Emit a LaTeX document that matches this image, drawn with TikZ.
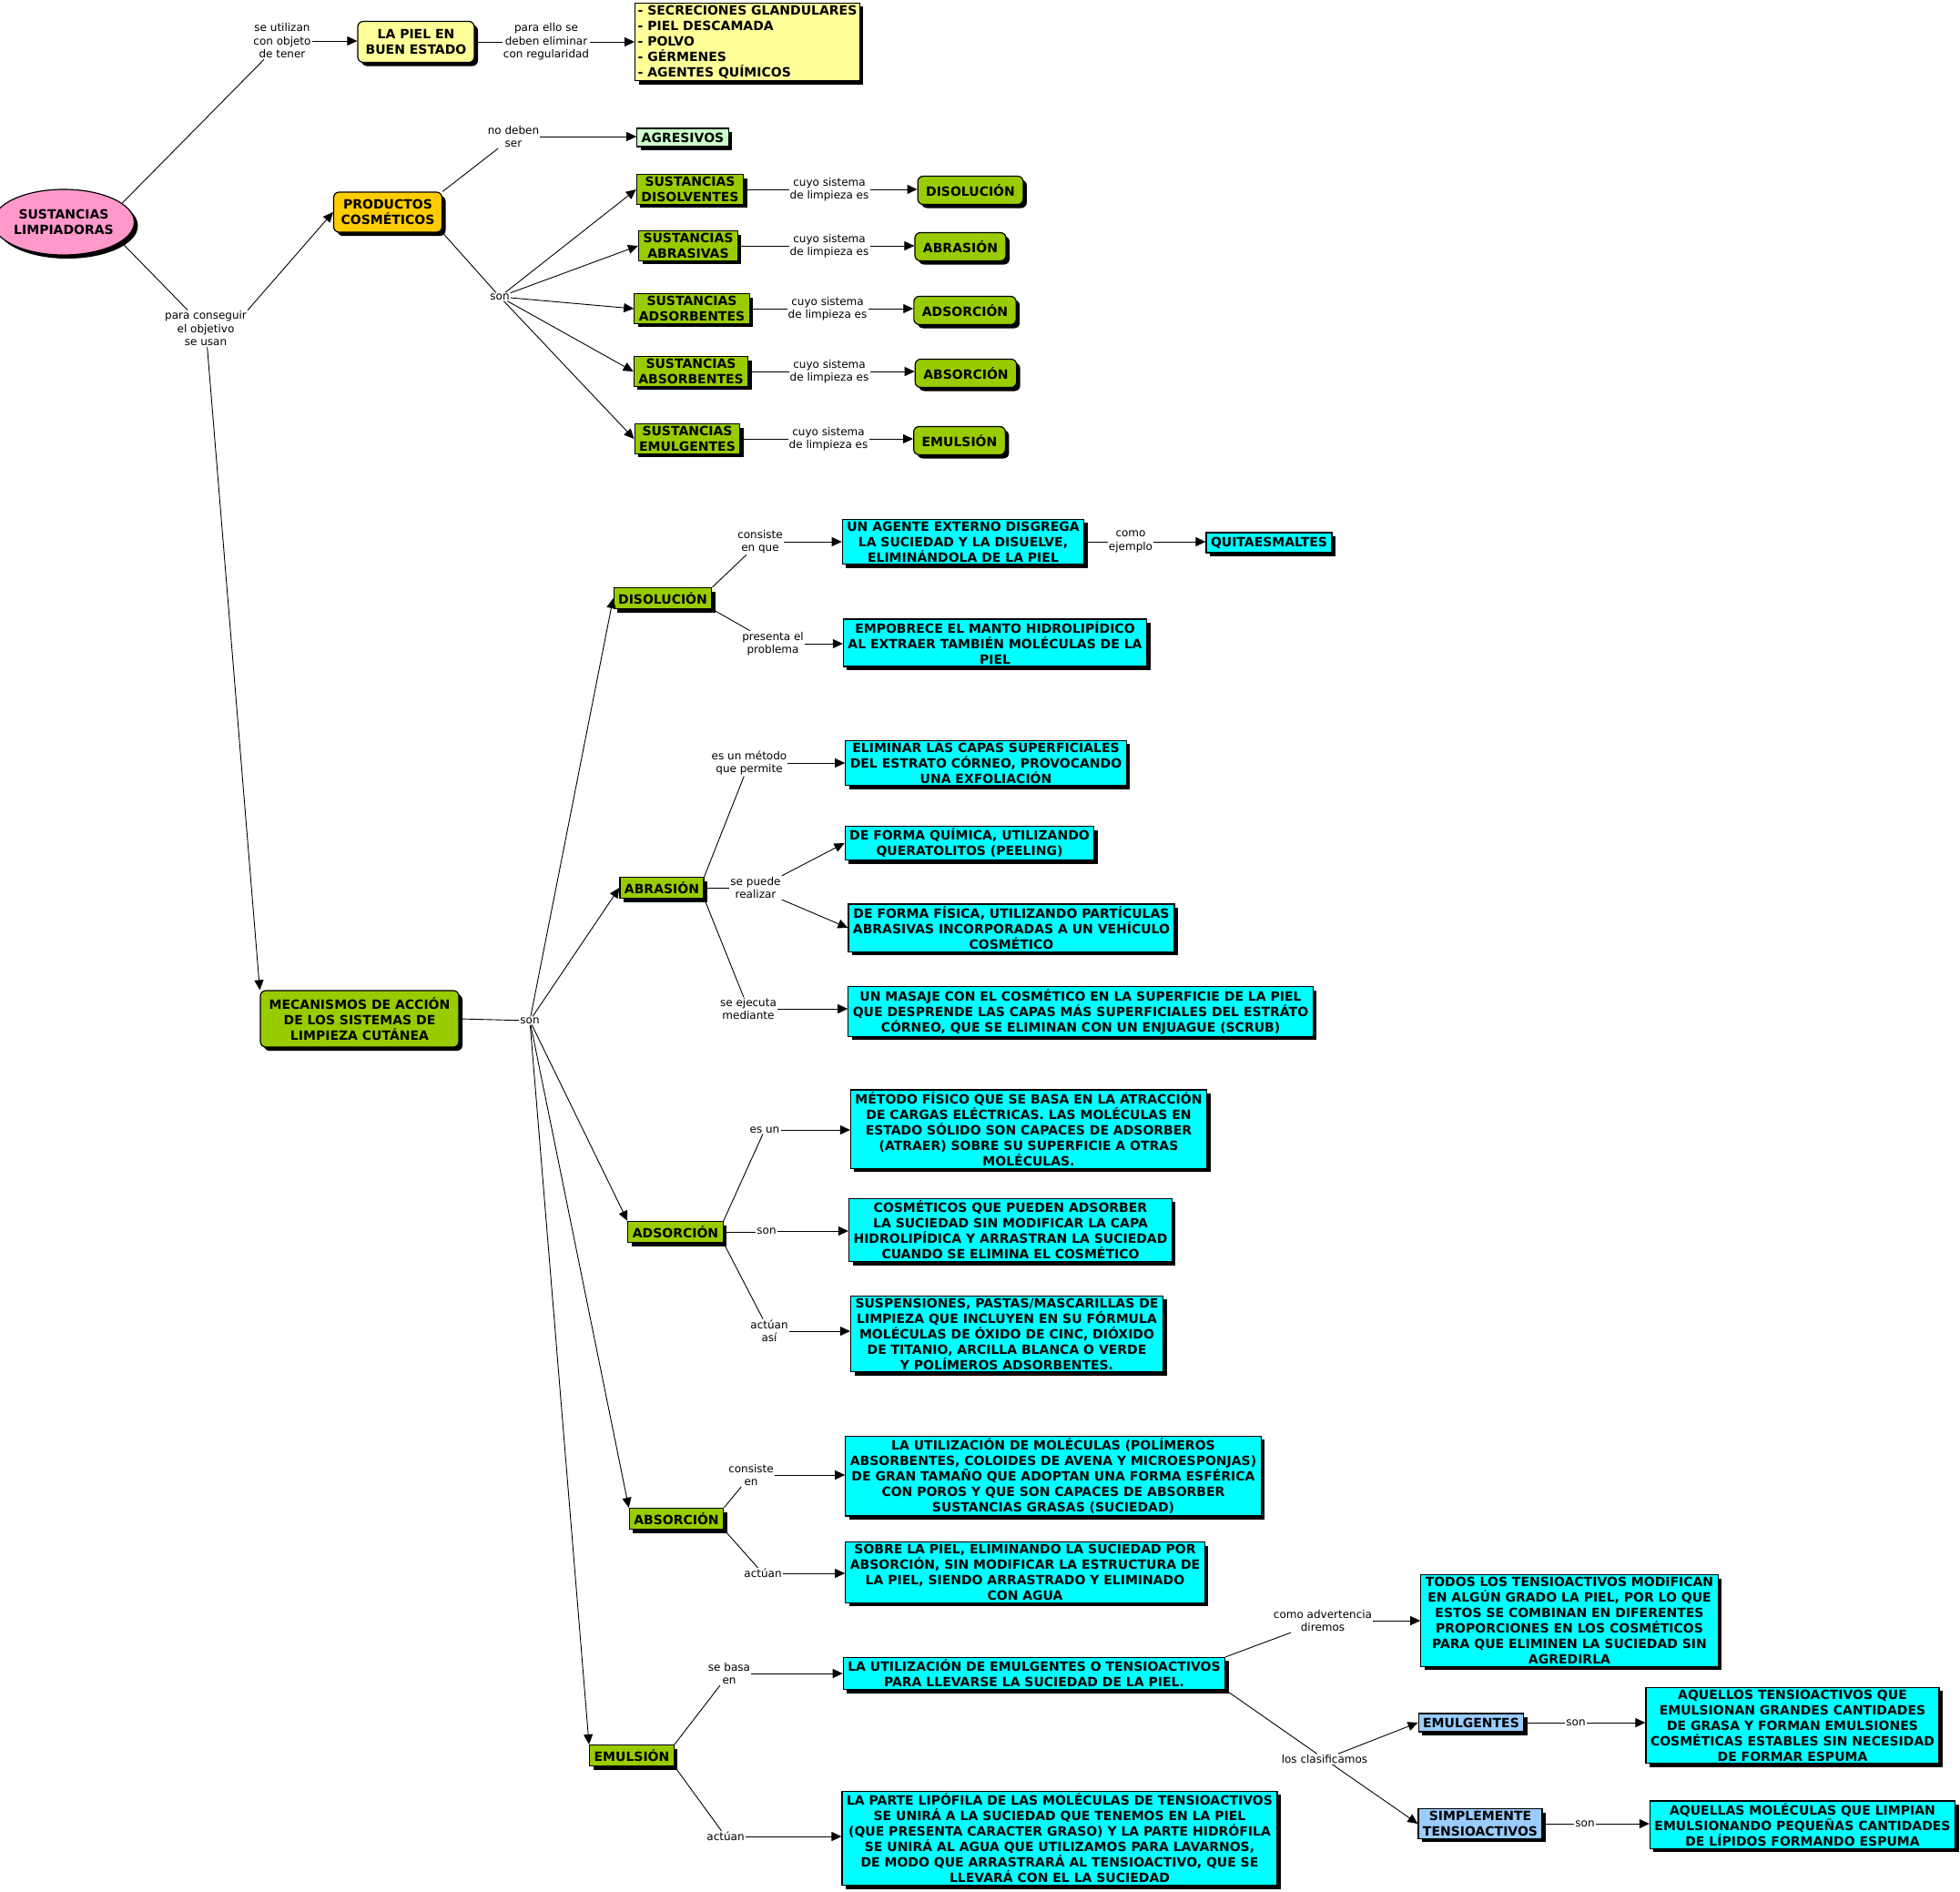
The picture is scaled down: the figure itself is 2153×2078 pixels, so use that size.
\documentclass[tikz,border=0pt]{standalone}
\usepackage{fontspec}
\setmainfont{DejaVu Sans}
\usetikzlibrary{shapes.geometric,shadows,arrows.meta}

\definecolor{rosa}{HTML}{FF99CC}
\definecolor{amarillo}{HTML}{FFFF99}
\definecolor{naranja}{HTML}{FFCC00}
\definecolor{verdeclaro}{HTML}{CCFFCC}
\definecolor{verde}{HTML}{99CC00}
\definecolor{celeste}{HTML}{00FFFF}
\definecolor{azul}{HTML}{99CCFF}

\tikzset{
  caja/.style={draw, line width=1.2pt, align=center, inner xsep=5pt, inner ysep=2.5pt,
    minimum height=20, font=\bfseries\fontsize{14}{17}\selectfont,
    drop shadow={shadow xshift=4pt, shadow yshift=-4pt, opacity=1, fill=black}},
  redondo/.style={caja, rounded corners=6pt},
  sistema/.style={redondo, fill=verde, inner xsep=9pt, minimum height=31},
  metodo/.style={caja, fill=verde, minimum height=23},
  enlace/.style={align=center, inner sep=1pt, font=\fontsize{12}{14.5}\selectfont},
  linea/.style={line width=0.9pt},
  flecha/.style={line width=0.9pt, ->}
}

\begin{document}
\begin{tikzpicture}[x=1pt, y=-1pt, >={Triangle[length=11pt,width=10pt]}]
\useasboundingbox (0,0) rectangle (2153,2078);

\node [caja, ellipse, fill=rosa, minimum width=140, minimum height=72, inner sep=0pt] (lim) at (70,244) {SUSTANCIAS\\LIMPIADORAS};
\node [enlace] (lutil) at (310,45) {se utilizan\\con objeto\\de tener};
\node [redondo, fill=amarillo, minimum width=128, minimum height=45] (piel) at (457,46) {LA PIEL EN\\BUEN ESTADO};
\node [enlace] (lpara) at (600,46) {para ello se\\deben eliminar\\con regularidad};
\node [caja, fill=amarillo, align=left, inner xsep=3pt] (elim) at (821,46) {- SECRECIONES GLANDULARES\\- PIEL DESCAMADA\\- POLVO\\- GÉRMENES\\- AGENTES QUÍMICOS};

\node [enlace] (lnoser) at (564,150) {no deben\\ser};
\node [caja, fill=verdeclaro] (agres) at (750,151) {AGRESIVOS};
\node [redondo, fill=naranja, minimum width=119, minimum height=44] (prod) at (426,233) {PRODUCTOS\\COSMÉTICOS};
\node [enlace] (lconseg) at (226,361) {para conseguir\\el objetivo\\se usan};
\node [enlace] (lson1) at (549,326) {son};

\node [caja, fill=verde] (disolv) at (758,208) {SUSTANCIAS\\DISOLVENTES};
\node [caja, fill=verde] (abras) at (756,270) {SUSTANCIAS\\ABRASIVAS};
\node [caja, fill=verde] (adsorb) at (760,339) {SUSTANCIAS\\ADSORBENTES};
\node [caja, fill=verde] (absorb) at (759,408) {SUSTANCIAS\\ABSORBENTES};
\node [caja, fill=verde] (emulg) at (755,482) {SUSTANCIAS\\EMULGENTES};

\node [enlace] (lcuyo1) at (911,208) {cuyo sistema\\de limpieza es};
\node [enlace] (lcuyo2) at (911,270) {cuyo sistema\\de limpieza es};
\node [enlace] (lcuyo3) at (909,339) {cuyo sistema\\de limpieza es};
\node [enlace] (lcuyo4) at (911,408) {cuyo sistema\\de limpieza es};
\node [enlace] (lcuyo5) at (910,482) {cuyo sistema\\de limpieza es};

\node [sistema] (sdisol) at (1066,209) {DISOLUCIÓN};
\node [sistema] (sabras) at (1055,271) {ABRASIÓN};
\node [sistema] (sadsor) at (1060,341) {ADSORCIÓN};
\node [sistema] (sabsor) at (1061,410) {ABSORCIÓN};
\node [sistema] (semul) at (1054,484) {EMULSIÓN};

\node [redondo, fill=verde, minimum width=218, minimum height=62] (mec) at (395,1119) {MECANISMOS DE ACCIÓN\\DE LOS SISTEMAS DE\\LIMPIEZA CUTÁNEA};
\node [enlace] (lson2) at (582,1121) {son};
\node [metodo] (mdisol) at (728,657) {DISOLUCIÓN};
\node [metodo] (mabras) at (727,975) {ABRASIÓN};
\node [metodo] (madsor) at (742,1353) {ADSORCIÓN};
\node [metodo] (mabsor) at (743,1668) {ABSORCIÓN};
\node [metodo] (memul) at (694,1928) {EMULSIÓN};

\node [enlace] (lconsq) at (835,595) {consiste\\en que};
\node [caja, fill=celeste] (agente) at (1058,595) {UN AGENTE EXTERNO DISGREGA\\LA SUCIEDAD Y LA DISUELVE,\\ELIMINÁNDOLA DE LA PIEL};
\node [enlace] (lcomo) at (1242,595) {como\\ejemplo};
\node [caja, fill=celeste, minimum height=22] (quita) at (1394,596) {QUITAESMALTES};
\node [enlace] (lprob) at (849,707) {presenta el\\problema};
\node [caja, fill=celeste] (empob) at (1093,706) {EMPOBRECE EL MANTO HIDROLIPÍDICO\\AL EXTRAER TAMBIÉN MOLÉCULAS DE LA\\PIEL};

\node [enlace] (lmetodo) at (823,838) {es un método\\que permite};
\node [caja, fill=celeste] (exfol) at (1083,838) {ELIMINAR LAS CAPAS SUPERFICIALES\\DEL ESTRATO CÓRNEO, PROVOCANDO\\UNA EXFOLIACIÓN};
\node [enlace] (lreal) at (830,975) {se puede\\realizar};
\node [caja, fill=celeste] (quim) at (1065,926) {DE FORMA QUÍMICA, UTILIZANDO\\QUERATOLITOS (PEELING)};
\node [caja, fill=celeste] (fisic) at (1111,1019) {DE FORMA FÍSICA, UTILIZANDO PARTÍCULAS\\ABRASIVAS INCORPORADAS A UN VEHÍCULO\\COSMÉTICO};
\node [enlace] (lejec) at (822,1108) {se ejecuta\\mediante};
\node [caja, fill=celeste] (masaje) at (1187,1111) {UN MASAJE CON EL COSMÉTICO EN LA SUPERFICIE DE LA PIEL\\QUE DESPRENDE LAS CAPAS MÁS SUPERFICIALES DEL ESTRÁTO\\CÓRNEO, QUE SE ELIMINAN CON UN ENJUAGUE (SCRUB)};

\node [enlace] (lesun) at (840,1241) {es un};
\node [caja, fill=celeste] (metodo) at (1130,1240) {MÉTODO FÍSICO QUE SE BASA EN LA ATRACCIÓN\\DE CARGAS ELÉCTRICAS. LAS MOLÉCULAS EN\\ESTADO SÓLIDO SON CAPACES DE ADSORBER\\(ATRAER) SOBRE SU SUPERFICIE A OTRAS\\MOLÉCULAS.};
\node [enlace] (lson3) at (842,1352) {son};
\node [caja, fill=celeste] (cosmet) at (1110,1351) {COSMÉTICOS QUE PUEDEN ADSORBER\\LA SUCIEDAD SIN MODIFICAR LA CAPA\\HIDROLIPÍDICA Y ARRASTRAN LA SUCIEDAD\\CUANDO SE ELIMINA EL COSMÉTICO};
\node [enlace] (lasi) at (845,1462) {actúan\\así};
\node [caja, fill=celeste] (susp) at (1106,1465) {SUSPENSIONES, PASTAS/MASCARILLAS DE\\LIMPIEZA QUE INCLUYEN EN SU FÓRMULA\\MOLÉCULAS DE ÓXIDO DE CINC, DIÓXIDO\\DE TITANIO, ARCILLA BLANCA O VERDE\\Y POLÍMEROS ADSORBENTES.};

\node [enlace] (lconsen) at (825,1620) {consiste\\en};
\node [caja, fill=celeste] (molec) at (1157,1621) {LA UTILIZACIÓN DE MOLÉCULAS (POLÍMEROS\\ABSORBENTES, COLOIDES DE AVENA Y MICROESPONJAS)\\DE GRAN TAMAÑO QUE ADOPTAN UNA FORMA ESFÉRICA\\CON POROS Y QUE SON CAPACES DE ABSORBER\\SUSTANCIAS GRASAS (SUCIEDAD)};
\node [enlace] (lact1) at (838,1728) {actúan};
\node [caja, fill=celeste] (sobre) at (1126,1727) {SOBRE LA PIEL, ELIMINANDO LA SUCIEDAD POR\\ABSORCIÓN, SIN MODIFICAR LA ESTRUCTURA DE\\LA PIEL, SIENDO ARRASTRADO Y ELIMINADO\\CON AGUA};

\node [enlace] (lbasa) at (801,1838) {se basa\\en};
\node [caja, fill=celeste] (utiliz) at (1136,1838) {LA UTILIZACIÓN DE EMULGENTES O TENSIOACTIVOS\\PARA LLEVARSE LA SUCIEDAD DE LA PIEL.};
\node [enlace] (lact2) at (797,2017) {actúan};
\node [caja, fill=celeste] (lipof) at (1164,2019) {LA PARTE LIPÓFILA DE LAS MOLÉCULAS DE TENSIOACTIVOS\\SE UNIRÁ A LA SUCIEDAD QUE TENEMOS EN LA PIEL\\(QUE PRESENTA CARACTER GRASO) Y LA PARTE HIDRÓFILA\\SE UNIRÁ AL AGUA QUE UTILIZAMOS PARA LAVARNOS,\\DE MODO QUE ARRASTRARÁ AL TENSIOACTIVO, QUE SE\\LLEVARÁ CON EL LA SUCIEDAD};
\node [enlace] (ladv) at (1453,1780) {como advertencia\\diremos};
\node [caja, fill=celeste] (todos) at (1724,1780) {TODOS LOS TENSIOACTIVOS MODIFICAN\\EN ALGÚN GRADO LA PIEL, POR LO QUE\\ESTOS SE COMBINAN EN DIFERENTES\\PROPORCIONES EN LOS COSMÉTICOS\\PARA QUE ELIMINEN LA SUCIEDAD SIN\\AGREDIRLA};
\node [enlace] (lclas) at (1455,1932) {los clasificamos};
\node [caja, fill=azul] (bemulg) at (1616,1892) {EMULGENTES};
\node [enlace] (lson4) at (1731,1892) {son};
\node [caja, fill=celeste] (aquellos) at (1969,1895) {AQUELLOS TENSIOACTIVOS QUE\\EMULSIONAN GRANDES CANTIDADES\\DE GRASA Y FORMAN EMULSIONES\\COSMÉTICAS ESTABLES SIN NECESIDAD\\DE FORMAR ESPUMA};
\node [caja, fill=azul] (bsimple) at (1626,2003) {SIMPLEMENTE\\TENSIOACTIVOS};
\node [enlace] (lson5) at (1741,2003) {son};
\node [caja, fill=celeste] (aquellas) at (1980,2004) {AQUELLAS MOLÉCULAS QUE LIMPIAN\\EMULSIONANDO PEQUEÑAS CANTIDADES\\DE LÍPIDOS FORMANDO ESPUMA};

% upper part: skin, cosmetic products and their cleaning systems
\draw [linea] (lim.18) -- (lutil);
\draw [flecha] (lutil.east) -- (lutil.east -| piel.west);
\draw [linea] (piel.east) -- (piel.east -| lpara.west);
\draw [flecha] (lpara.east) -- (lpara.east -| elim.west);
\draw [linea] (lim.-19) -- (lconseg);
\draw [flecha] (lconseg.north east) -- (prod.west);
\draw [flecha] (lconseg) -- (mec.north west);
\draw [linea] (prod.north east) -- (lnoser);
\draw [flecha] (lnoser.east) -- (lnoser.east -| agres.west);
\draw [linea] (prod.south east) -- (lson1);
\draw [flecha] (lson1) -- (disolv.west);
\draw [flecha] (lson1) -- (abras.west);
\draw [flecha] (lson1) -- (adsorb.west);
\draw [flecha] (lson1) -- (absorb.west);
\draw [flecha] (lson1) -- (emulg.west);
\draw [linea] (disolv.east) -- (disolv.east -| lcuyo1.west);
\draw [linea] (abras.east) -- (abras.east -| lcuyo2.west);
\draw [linea] (adsorb.east) -- (adsorb.east -| lcuyo3.west);
\draw [linea] (absorb.east) -- (absorb.east -| lcuyo4.west);
\draw [linea] (emulg.east) -- (emulg.east -| lcuyo5.west);
\draw [flecha] (lcuyo1.east) -- (lcuyo1.east -| sdisol.west);
\draw [flecha] (lcuyo2.east) -- (lcuyo2.east -| sabras.west);
\draw [flecha] (lcuyo3.east) -- (lcuyo3.east -| sadsor.west);
\draw [flecha] (lcuyo4.east) -- (lcuyo4.east -| sabsor.west);
\draw [flecha] (lcuyo5.east) -- (lcuyo5.east -| semul.west);

% lower part: mechanisms
\draw [linea] (mec.east) -- (lson2);
\draw [flecha] (lson2) -- (mdisol.west);
\draw [flecha] (lson2) -- (mabras.west);
\draw [flecha] (lson2) -- (madsor.north west);
\draw [flecha] (lson2) -- (mabsor.north west);
\draw [flecha] (lson2) -- (memul.north west);
\draw [linea] (mdisol.north east) -- (lconsq);
\draw [flecha] (lconsq.east) -- (lconsq.east -| agente.west);
\draw [linea] (agente.east) -- (agente.east -| lcomo.west);
\draw [flecha] (lcomo.east) -- (lcomo.east -| quita.west);
\draw [linea] (mdisol.south east) -- (lprob);
\draw [flecha] (lprob.east) -- (lprob.east -| empob.west);
\draw [linea] (mabras.north east) -- (lmetodo);
\draw [flecha] (lmetodo.east) -- (lmetodo.east -| exfol.west);
\draw [linea] (mabras.east) -- (mabras.east -| lreal.west);
\draw [flecha] (lreal.north east) -- (quim.west);
\draw [flecha] (lreal.south east) -- (fisic.west);
\draw [linea] (mabras.south east) -- (lejec);
\draw [flecha] (lejec.east) -- (lejec.east -| masaje.west);
\draw [linea] (madsor.north east) -- (lesun);
\draw [flecha] (lesun.east) -- (lesun.east -| metodo.west);
\draw [linea] (madsor.east) -- (madsor.east -| lson3.west);
\draw [flecha] (lson3.east) -- (lson3.east -| cosmet.west);
\draw [linea] (madsor.south east) -- (lasi);
\draw [flecha] (lasi.east) -- (lasi.east -| susp.west);
\draw [linea] (mabsor.north east) -- (lconsen);
\draw [flecha] (lconsen.east) -- (lconsen.east -| molec.west);
\draw [linea] (mabsor.south east) -- (lact1);
\draw [flecha] (lact1.east) -- (lact1.east -| sobre.west);
\draw [linea] (memul.north east) -- (lbasa);
\draw [flecha] (lbasa.east) -- (lbasa.east -| utiliz.west);
\draw [linea] (memul.south east) -- (lact2);
\draw [flecha] (lact2.east) -- (lact2.east -| lipof.west);
\draw [linea] (utiliz.north east) -- (ladv);
\draw [flecha] (ladv.east) -- (ladv.east -| todos.west);
\draw [linea] (utiliz.south east) -- (lclas);
\draw [flecha] (lclas) -- (bemulg.west);
\draw [flecha] (lclas) -- (bsimple.west);
\draw [linea] (bemulg.east) -- (bemulg.east -| lson4.west);
\draw [flecha] (lson4.east) -- (lson4.east -| aquellos.west);
\draw [linea] (bsimple.east) -- (bsimple.east -| lson5.west);
\draw [flecha] (lson5.east) -- (lson5.east -| aquellas.west);

\end{tikzpicture}
\end{document}
